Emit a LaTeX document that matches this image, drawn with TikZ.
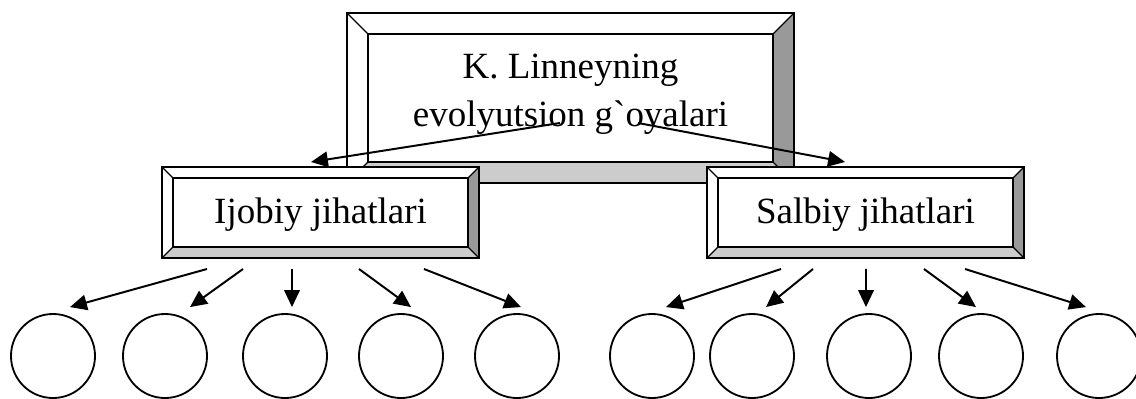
\documentclass[tikz,border=0pt]{standalone}
\usepackage{fontspec}
\setmainfont{Liberation Serif}
\usepackage{tikz}
\usetikzlibrary{arrows.meta,positioning,calc}
\definecolor{bevdark}{HTML}{999999}
\definecolor{bevlight}{HTML}{CCCCCC}
\tikzset{
  frame/.style   = {draw=black,line width=1.4pt},
  bevline/.style = {draw=black,line width=0.8pt},
  boxtext/.style = {inner sep=0pt,align=center,
                    font=\fontsize{26.3}{34.2}\selectfont},
  leaf/.style    = {draw,circle,line width=1.3pt,minimum size=2.1cm,
                    inner sep=0pt},
  arr/.style     = {-{Triangle[length=12pt,width=11pt]},line width=1.4pt},
}
% bevelled frame: [text shift], name, left, top, width, height, depth, text
\newcommand{\bevelbox}[8][1]{%
  \begin{scope}[shift={(#3,#4)}]
    \fill[white] (0,0) rectangle (#5,#6);
    \fill[bevdark] (#5,0) -- (#5,#6) -- ({#5-#7},{#6-#7}) -- ({#5-#7},#7) -- cycle;
    \fill[bevlight] (0,#6) -- (#5,#6) -- ({#5-#7},{#6-#7}) -- (#7,{#6-#7}) -- cycle;
    \draw[bevline] (0,0) -- (#7,#7) (#5,0) -- ({#5-#7},#7)
                   (0,#6) -- (#7,{#6-#7}) (#5,#6) -- ({#5-#7},{#6-#7});
    \draw[bevline] (#7,#7) rectangle ({#5-#7},{#6-#7});
    \draw[frame] (0,0) rectangle (#5,#6);
    \node[boxtext] (#2) at ({#5/2},{#6/2+#1}) {#8};
    \coordinate (#2-n) at ({#5/2},0);
    \coordinate (#2-s) at ({#5/2},#6);
  \end{scope}%
}

\begin{document}
\begin{tikzpicture}[x=0.025cm,y=-0.025cm]
  \useasboundingbox (0,0) rectangle (1136,399);

  \bevelbox[-4]{idea}{347}{13}{447}{170}{21}{K. Linneyning\\evolyutsion g\textasciigrave oyalari}
  \bevelbox[2]{plus}{162}{167}{317}{91}{11}{Ijobiy jihatlari}
  \bevelbox[2]{minus}{707}{167}{317}{91}{11}{Salbiy jihatlari}

  \draw[arr] ($(idea)+(-10.5,29)$) -- ($(plus-n)+(-9.5,-5)$);
  \draw[arr] ($(idea)+(67.5,29)$) -- ($(minus-n)+(-20.5,-5)$);

  % leaves under the positive side
  \node[leaf] (p1) at (53,356) {};
  \node[leaf] (p2) at (165,356) {};
  \node[leaf] (p3) at (285,356) {};
  \node[leaf] (p4) at (401,356) {};
  \node[leaf] (p5) at (517,356) {};
  % leaves under the negative side
  \node[leaf] (m1) at (652,356) {};
  \node[leaf] (m2) at (752,356) {};
  \node[leaf] (m3) at (869,356) {};
  \node[leaf] (m4) at (981,356) {};
  \node[leaf] (m5) at (1099,356) {};

  \draw[arr] ($(plus-s)+(-113.5,11)$) -- ($(p1.north)+(17,-6)$);
  \draw[arr] ($(plus-s)+(-77.5,11)$) -- ($(p2.north)+(25,-6)$);
  \draw[arr] ($(plus-s)+(-28.5,11)$) -- ($(p3.north)+(7,-6)$);
  \draw[arr] ($(plus-s)+(38.5,11)$) -- ($(p4.north)+(10,-6)$);
  \draw[arr] ($(plus-s)+(103.5,11)$) -- ($(p5.north)+(4,-6)$);

  \draw[arr] ($(minus-s)+(-84.5,11)$) -- ($(m1.north)+(14,-6)$);
  \draw[arr] ($(minus-s)+(-52.5,11)$) -- ($(m2.north)+(14,-6)$);
  \draw[arr] ($(minus-s)+(0.5,11)$) -- ($(m3.north)+(-3,-6)$);
  \draw[arr] ($(minus-s)+(58.5,11)$) -- ($(m4.north)+(-5,-6)$);
  \draw[arr] ($(minus-s)+(99.5,11)$) -- ($(m5.north)+(-13,-6)$);
\end{tikzpicture}
\end{document}
